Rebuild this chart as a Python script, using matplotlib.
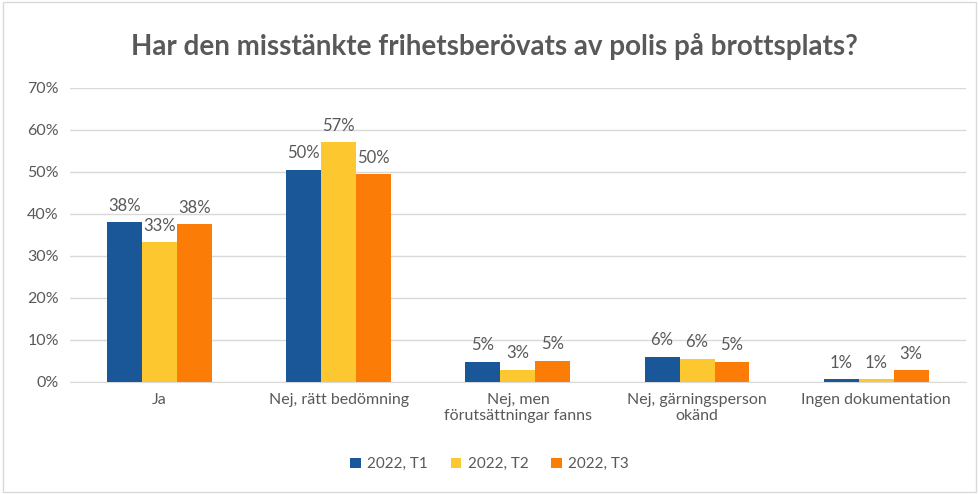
import numpy as np
import matplotlib
matplotlib.use("Agg")
import matplotlib.pyplot as plt
from matplotlib.patches import Rectangle

categories = ["Ja", "Nej, rätt bedömning", "Nej, men\nförutsättningar fanns",
              "Nej, gärningsperson\nokänd", "Ingen dokumentation"]
series = ["2022, T1", "2022, T2", "2022, T3"]
t1 = [38.0, 50.5, 4.8, 6.0, 0.7]
t2 = [33.3, 57.1, 2.9, 5.5, 0.7]
t3 = [37.6, 49.5, 5.0, 4.8, 2.8]
labels_t1 = ["38%", "50%", "5%", "6%", "1%"]
labels_t2 = ["33%", "57%", "3%", "6%", "1%"]
labels_t3 = ["38%", "50%", "5%", "5%", "3%"]
colors = ["#1a5799", "#fdc730", "#fb7d07"]

plt.rcParams['font.family'] = ['Lato', 'DejaVu Sans']
grey = "#595959"

fig = plt.figure(figsize=(9.79, 4.94), dpi=100)
ax = fig.add_axes([0.0715, 0.227, 0.915, 0.595])

x = np.arange(len(categories))
w = 0.195
for i, (vals, labs) in enumerate(zip([t1, t2, t3], [labels_t1, labels_t2, labels_t3])):
    bars = ax.bar(x + (i - 1) * w, vals, w, color=colors[i], label=series[i], zorder=3)
    for b, lab in zip(bars, labs):
        ax.text(b.get_x() + b.get_width() / 2, b.get_height() + 2.0, lab,
                ha="center", va="bottom", fontsize=12, color=grey)

ax.set_ylim(0, 70)
ax.set_xlim(-0.5, 4.5)
ax.set_yticks(range(0, 71, 10))
ax.set_yticklabels([f"{v}%" for v in range(0, 71, 10)], fontsize=11.5, color=grey)
ax.set_xticks(x)
ax.set_xticklabels(categories, fontsize=11.5, color=grey)
ax.tick_params(length=0, pad=8)
ax.yaxis.grid(True, color="#d9d9d9", linewidth=1, zorder=0)
for s in ["top", "right", "left"]:
    ax.spines[s].set_visible(False)
ax.spines["bottom"].set_color("#d9d9d9")

fig.text(0.505, 0.905, "Har den misstänkte frihetsberövats av polis på brottsplats?",
         ha="center", va="center", fontsize=20, fontweight="bold", color=grey)

fig.legend(loc="center", bbox_to_anchor=(0.5, 0.06), ncol=3, frameon=False,
           fontsize=11, handlelength=0.7, handleheight=0.7, columnspacing=1.5,
           handletextpad=0.4, labelcolor=grey)

fig.patches.append(Rectangle((0.003, 0.005), 0.994, 0.99, transform=fig.transFigure,
                             fill=False, edgecolor="#d9d9d9", linewidth=1))

fig.savefig("out.png", dpi=100, facecolor="white")
